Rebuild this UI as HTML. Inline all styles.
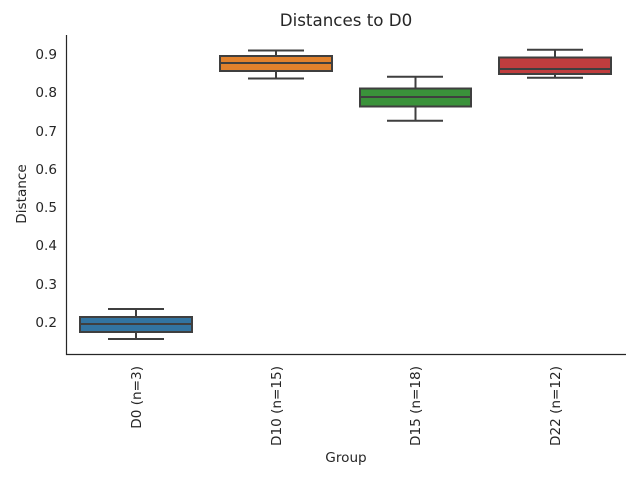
<!DOCTYPE html>
<html><head><style>body{margin:0;background:#fff}</style></head><body>
<svg width="640" height="480" xmlns="http://www.w3.org/2000/svg" font-family="DejaVu Sans, sans-serif">
<rect width="640" height="480" fill="#fff"/>
<text x="346" y="26" font-size="16.7" text-anchor="middle" fill="#262626">Distances to D0</text>
<g font-size="13.6" fill="#262626" text-anchor="end">
<text x="57" y="59">0.9</text><text x="57" y="97">0.8</text><text x="57" y="136">0.7</text><text x="57" y="174">0.6</text><text x="57" y="212">0.5</text><text x="57" y="250">0.4</text><text x="57" y="289">0.3</text><text x="57" y="327">0.2</text>
</g>
<text transform="translate(26,194) rotate(-90)" font-size="13.6" text-anchor="middle" fill="#262626">Distance</text>
<text x="346" y="462" font-size="13.6" text-anchor="middle" fill="#262626">Group</text>
<g font-size="13.6" fill="#262626" text-anchor="end">
<text transform="translate(141,366) rotate(-90)">D0 (n=3)</text>
<text transform="translate(281,366) rotate(-90)">D10 (n=15)</text>
<text transform="translate(420,366) rotate(-90)">D15 (n=18)</text>
<text transform="translate(560,366) rotate(-90)">D22 (n=12)</text>
</g>
<path d="M66.5 35V354.5H626" fill="none" stroke="#262626" stroke-width="1.2"/>
<g stroke="#3f3f3f" stroke-width="2" fill="none">
<path d="M136 309V317M136 332V339M108 309H164M108 339H164"/>
<rect x="80" y="317" width="112" height="15" fill="#3274a1"/><path d="M80 324H192"/>
<path d="M276 50.5V56M276 71V78.5M248 50.5H304M248 78.5H304"/>
<rect x="220" y="56" width="112" height="15" fill="#e1812c"/><path d="M220 63H332"/>
<path d="M415.5 76.7V88.5M415.5 106.5V120.7M387 76.7H443M387 120.7H443"/>
<rect x="360" y="88.5" width="111" height="18" fill="#3a923a"/><path d="M360 97H471"/>
<path d="M555 49.7V57.5M555 74V77.7M527 49.7H583M527 77.7H583"/>
<rect x="499" y="57.5" width="112" height="16.5" fill="#c03d3e"/><path d="M499 69H611"/>
</g>
</svg>
</body></html>
